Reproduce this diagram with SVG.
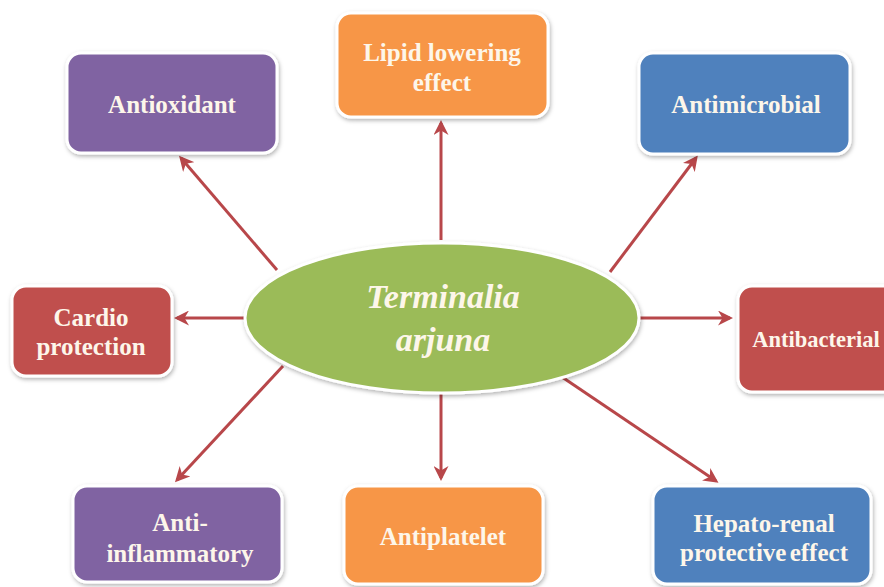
<svg xmlns="http://www.w3.org/2000/svg" width="884" height="587" viewBox="0 0 884 587">
<defs>
<marker id="ah" viewBox="0 0 10 10" refX="8" refY="5" markerWidth="5" markerHeight="5" orient="auto" markerUnits="strokeWidth">
<path d="M0,0 L10,5 L0,10 L3,5 Z" fill="#b8474a"/>
</marker>
<filter id="sh" x="-10%" y="-10%" width="120%" height="130%">
<feDropShadow dx="1" dy="2" stdDeviation="2" flood-color="#000" flood-opacity="0.3"/>
</filter>
</defs>
<style>
.box{stroke:#fff;stroke-width:3;filter:url(#sh)}
.t{font-weight:bold;font-size:25px;fill:#fdf6ea;text-anchor:middle}
.c{stroke:#b8474a;stroke-width:3;fill:none;marker-end:url(#ah)}
</style>
<rect width="884" height="587" fill="#fff"/>
<g id="connectors">
<line class="c" x1="277" y1="270" x2="181" y2="158"/>
<line class="c" x1="441" y1="240" x2="441" y2="123"/>
<line class="c" x1="610" y1="272" x2="696" y2="158"/>
<line class="c" x1="246" y1="318" x2="177" y2="318"/>
<line class="c" x1="638" y1="318" x2="730" y2="318"/>
<line class="c" x1="283" y1="366" x2="177" y2="480"/>
<line class="c" x1="441" y1="393" x2="441" y2="478"/>
<line class="c" x1="562" y1="377" x2="716" y2="481"/>
</g>
<g font-family="Liberation Serif, serif">
<g id="center">
<ellipse cx="442" cy="318" rx="197" ry="75" fill="#9bbb59" class="box"/>
<text x="443" y="308" class="t" style="font-size:34px;font-style:italic">Terminalia</text>
<text x="443" y="351" class="t" style="font-size:34px;font-style:italic">arjuna</text>
</g>
<g id="antioxidant">
<rect x="67" y="53" width="210" height="100" rx="14" fill="#8064a2" class="box"/>
<text x="172" y="113" class="t">Antioxidant</text>
</g>
<g id="lipid">
<rect x="337" y="13" width="211" height="104" rx="14" fill="#f79646" class="box"/>
<text x="442" y="61" class="t">Lipid lowering</text>
<text x="442" y="91" class="t">effect</text>
</g>
<g id="antimicrobial">
<rect x="639" y="53" width="211" height="101" rx="14" fill="#4f81bd" class="box"/>
<text x="746" y="113" class="t">Antimicrobial</text>
</g>
<g id="cardio">
<rect x="12" y="286" width="160" height="90" rx="14" fill="#c0504d" class="box"/>
<text x="91" y="326" class="t">Cardio</text>
<text x="91" y="355" class="t">protection</text>
</g>
<g id="antibacterial">
<rect x="738" y="286" width="160" height="106" rx="14" fill="#c0504d" class="box"/>
<text x="816" y="347" class="t" style="font-size:22.5px">Antibacterial</text>
</g>
<g id="antiinflammatory">
<rect x="73" y="486" width="209" height="96" rx="14" fill="#8064a2" class="box"/>
<text x="180" y="531" class="t">Anti-</text>
<text x="180" y="562" class="t">inflammatory</text>
</g>
<g id="antiplatelet">
<rect x="344" y="486" width="199" height="98" rx="14" fill="#f79646" class="box"/>
<text x="443" y="545" class="t">Antiplatelet</text>
</g>
<g id="hepato">
<rect x="653" y="486" width="218" height="98" rx="14" fill="#4f81bd" class="box"/>
<text x="764" y="532" class="t">Hepato-renal</text>
<text x="764" y="561" class="t" style="word-spacing:-3px">protective effect</text>
</g>
</g>
</svg>
